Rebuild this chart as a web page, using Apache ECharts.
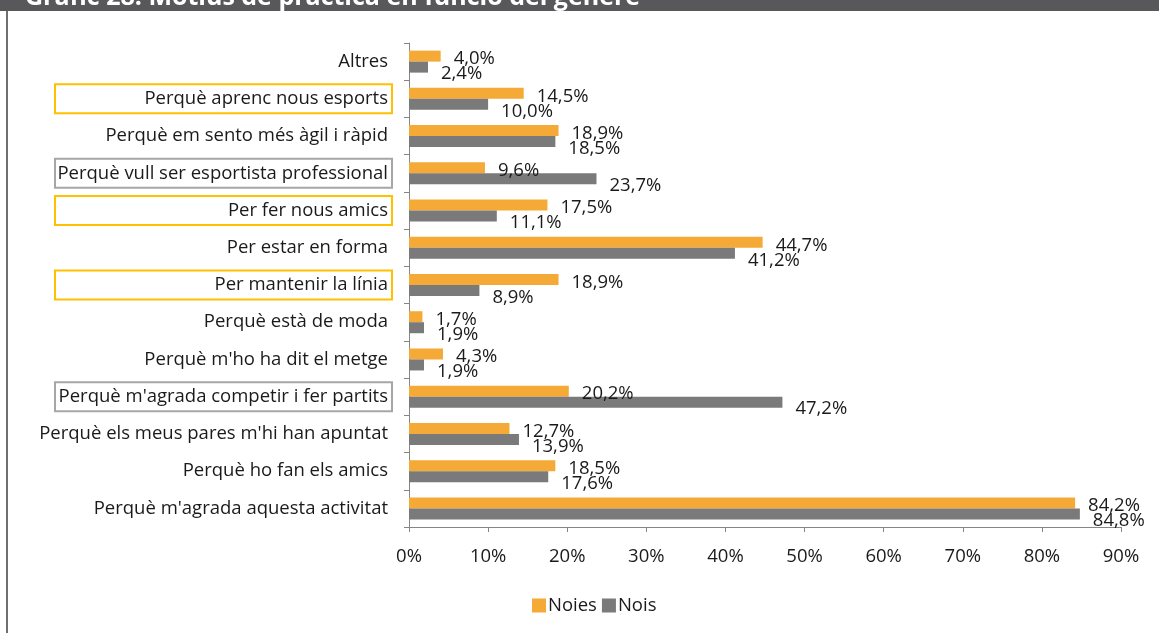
<!DOCTYPE html>
<html>
<head>
<meta charset="utf-8">
<script src="https://cdn.jsdelivr.net/npm/echarts@6/dist/echarts.min.js"></script>
<style>
  html, body { margin: 0; padding: 0; background: #fff; }
  #main { width: 1159px; height: 633px; }
</style>
</head>
<body>
<div id="main"></div>
<script>
const categories = [
  'Altres',
  'Perquè aprenc nous esports',
  'Perquè em sento més àgil i ràpid',
  'Perquè vull ser esportista professional',
  'Per fer nous amics',
  'Per estar en forma',
  'Per mantenir la línia',
  'Perquè està de moda',
  "Perquè m'ho ha dit el metge",
  "Perquè m'agrada competir i fer partits",
  "Perquè els meus pares m'hi han apuntat",
  'Perquè ho fan els amics',
  "Perquè m'agrada aquesta activitat"
]
const noies = [4.0, 14.5, 18.9, 9.6, 17.5, 44.7, 18.9, 1.7, 4.3, 20.2, 12.7, 18.5, 84.2]
const nois = [2.4, 10.0, 18.5, 23.7, 11.1, 41.2, 8.9, 1.9, 1.9, 47.2, 13.9, 17.6, 84.8]
// labels framed in the original
const yellowBox = ['Perquè aprenc nous esports', 'Per fer nous amics', 'Per mantenir la línia']
const greyBox = ['Perquè vull ser esportista professional', "Perquè m'agrada competir i fer partits"]

const font = 'Open Sans'
const fs = 18.5
const pct = v => v.toFixed(1).replace('.', ',') + '%'

const myChart = echarts.init(document.getElementById('main'))

const labelBox = {
  width: 333,
  align: 'right',
  fontFamily: font,
  fontSize: fs,
  color: '#1a1a1a',
  lineHeight: 21,
  padding: [5, 4, 5, 0]
}

myChart.setOption({
  animation: false,
  textStyle: { fontFamily: font },
  graphic: [
    { type: 'rect', shape: { x: 0, y: 0, width: 1159, height: 11 }, style: { fill: '#58585a' } },
    {
      type: 'text', left: 25, top: -15,
      style: { text: 'Gràfic 28. Motius de pràctica en funció del gènere', fill: '#fff', font: 'bold 25px ' + font }
    },
    // white strip hides the part of the title below the dark band
    { type: 'rect', shape: { x: 0, y: 11, width: 1159, height: 12 }, style: { fill: '#fff' } },
    { type: 'line', shape: { x1: 7, y1: 11, x2: 7, y2: 633 }, style: { stroke: '#6f6f6f', lineWidth: 2 } }
  ],
  grid: { left: 409, right: 38, top: 43, bottom: 106, containLabel: false },
  legend: {
    left: 527, top: 591,
    itemWidth: 14, itemHeight: 14, itemGap: 5,
    icon: 'rect',
    textStyle: { fontFamily: font, fontSize: fs, color: '#1a1a1a', padding: [0, 0, 0, -3] },
    data: ['Noies', 'Nois']
  },
  xAxis: {
    type: 'value', min: 0, max: 90, interval: 10,
    axisLine: { show: true, lineStyle: { color: '#868686' } },
    axisTick: { show: true, length: 5, lineStyle: { color: '#868686' } },
    axisLabel: { formatter: '{value}%', fontSize: fs, color: '#1a1a1a', margin: 20 },
    splitLine: { show: false }
  },
  yAxis: {
    type: 'category', inverse: true, data: categories,
    axisLine: { lineStyle: { color: '#868686' } },
    axisTick: { show: true, length: 5, lineStyle: { color: '#868686' } },
    axisLabel: {
      margin: 17,
      formatter: v => yellowBox.includes(v) ? '{y|' + v + '}' : greyBox.includes(v) ? '{g|' + v + '}' : '{n|' + v + '}',
      rich: {
        n: labelBox,
        y: Object.assign({}, labelBox, { borderColor: '#ffc000', borderWidth: 2 }),
        g: Object.assign({}, labelBox, { borderColor: '#a6a6a6', borderWidth: 2 })
      }
    }
  },
  series: [
    {
      name: 'Noies', type: 'bar', data: noies,
      barWidth: 11, barGap: '0%',
      itemStyle: { color: '#f5a936' },
      label: { show: true, position: 'right', distance: 13, offset: [0, 3], formatter: p => pct(p.value), fontSize: fs, color: '#1a1a1a' }
    },
    {
      name: 'Nois', type: 'bar', data: nois,
      barWidth: 11, barGap: '0%',
      itemStyle: { color: '#7a7a7a' },
      label: { show: true, position: 'right', distance: 13, offset: [0, 7], formatter: p => pct(p.value), fontSize: fs, color: '#1a1a1a' }
    }
  ]
})

window.onresize = function () {
  myChart.resize()
}
</script>
</body>
</html>
